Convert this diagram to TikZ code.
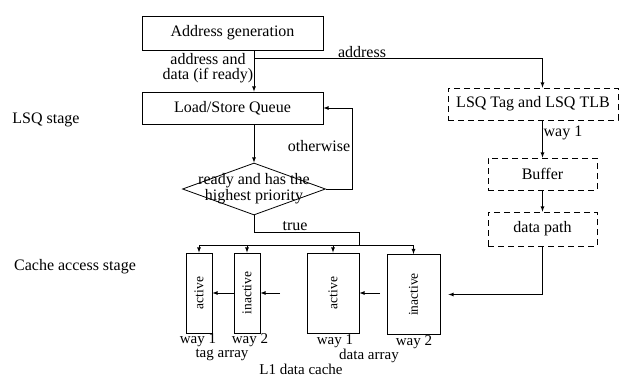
\documentclass[tikz,border=0pt]{standalone}
\usepackage{fontspec}
\setmainfont{Liberation Serif}
\usepackage{tikz}
\usetikzlibrary{shapes.geometric, arrows, math}

\begin{document}
\begin{tikzpicture}[x=1pt, y=-1pt, line width=0.8pt, font=\fontsize{16}{16}\selectfont,
    block/.style={draw, rectangle, inner sep=0pt, align=center},
    dashblock/.style={block, dash pattern=on 6pt off 4pt},
    way/.style={block, minimum height=80pt},
    wayname/.style={rotate=90, font=\fontsize{13.5}{14}\selectfont},
    caption/.style={font=\fontsize{15}{15}\selectfont, inner sep=1pt}]
    \tikzmath{\xMain = 254; \yBus = 245; \yWay = 293; \xPath = 542.5;}
    \useasboundingbox (0,0) rectangle (619,378);

    \node[block, minimum width=181pt, minimum height=34pt](addr-gen) at (232.5,33) {Address generation};

    \node[block, minimum width=181pt, minimum height=32pt](lsq) at (232.5,108) {Load/Store Queue};

    \node[draw, diamond, minimum width=143pt, minimum height=52pt, inner sep=0pt, label={[align=center]center:ready and has the\\highest priority}](ready) at (\xMain,189) {};

    \node[dashblock, minimum width=170pt, minimum height=32pt](lsq-tag) at (533,104) {LSQ Tag and LSQ TLB};

    \node[dashblock, minimum width=109pt, minimum height=32pt](buffer) at (\xPath,174) {Buffer};

    \node[dashblock, minimum width=109pt, minimum height=34pt](data-path) at (\xPath,229) {data path};

    \node[way, minimum width=26pt, label={[wayname]center:active}](tag-way1) at (199,\yWay) {};
    \node[way, minimum width=26pt, label={[wayname]center:inactive}](tag-way2) at (247,\yWay) {};
    \node[way, minimum width=52pt, label={[wayname]center:active}](data-way1) at (333,\yWay) {};
    \node[way, minimum width=53pt, label={[wayname]center:inactive}](data-way2) at (413.5,\yWay+1.5) {};

    \node(lsq-stage) at (46,120) {LSQ stage};
    \node(cache-stage) at (75,267) {Cache access stage};
    \node[align=center, font=\fontsize{16}{14.5}\selectfont](addr-data) at (208,68) {address and\\data (if ready)};
    \node(addr) at (362,52) {address};
    \node(tlb-way1) at (563,133) {way 1};
    \node(otherwise) at (319,146) {otherwise};
    \node(true) at (295,226) {true};
    \node[caption](tag-w1) at (198,340) {way 1};
    \node[caption](tag-w2) at (250,340) {way 2};
    \node[caption](tag-array) at (222,355) {tag array};
    \node[caption](data-w1) at (335,341) {way 1};
    \node[caption](data-w2) at (414,342) {way 2};
    \node[caption](data-array) at (369,356) {data array};
    \node[caption](l1-cache) at (301,369) {L1 data cache};

    \coordinate(split) at (\xMain,58);
    \coordinate(bus) at (359,\yBus);
    \coordinate(tag-feed) at (280,\yWay);
    \coordinate(data-feed) at (380,\yWay);

    \draw[-latex] (addr-gen.south -| split) -- (lsq.north -| split);
    \draw[-latex] (split) -| (lsq-tag.north -| buffer);
    \draw[-latex] (lsq.south -| ready) -- (ready.north);
    \draw[-latex] (ready.east) -- ++(26,0) |- (lsq.east);
    \draw (ready.south) -- ++(0,17) -| (bus);
    \draw (tag-way1.north |- bus) -- (data-way2.north |- bus);
    \foreach \w in {tag-way1, tag-way2, data-way1, data-way2}
        \draw[-latex] (\w.north |- bus) -- (\w.north);
    \draw[-latex] (tag-way2.west) -- (tag-way1.east);
    \draw[-latex] (tag-feed) -- (tag-way2.east);
    \draw[-latex] (data-feed) -- (data-way1.east);
    \draw[-latex] (lsq-tag.south -| buffer) -- (buffer.north);
    \draw[-latex] (buffer.south) -- (data-path.north);
    \draw[-latex, shorten >=8pt] (data-path.south) |- (data-way2.east);
\end{tikzpicture}
\end{document}
